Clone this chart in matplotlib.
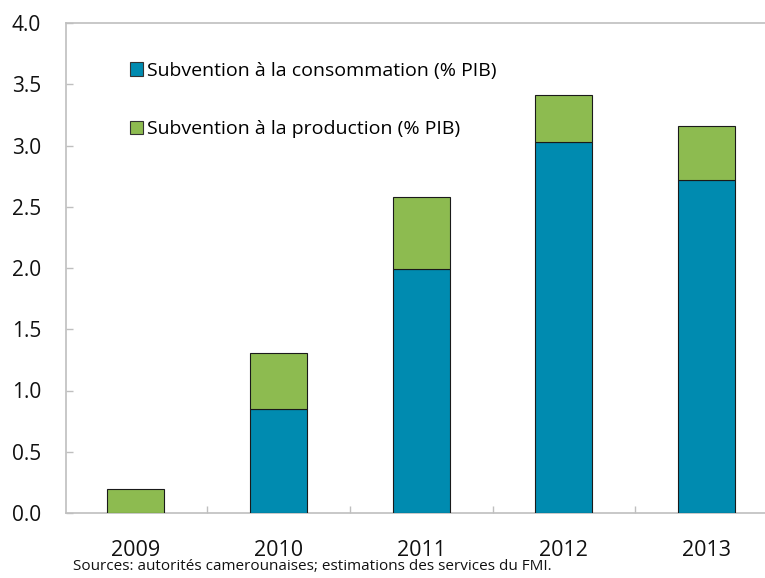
import matplotlib
matplotlib.use("Agg")
import matplotlib.pyplot as plt
from matplotlib.patches import Patch
from matplotlib.ticker import FixedLocator
import numpy as np

years = ["2009", "2010", "2011", "2012", "2013"]
consommation = [0.0, 0.85, 1.99, 3.03, 2.72]
production = [0.20, 0.46, 0.59, 0.38, 0.44]
yticks = [0.0, 0.5, 1.0, 1.5, 2.0, 2.5, 3.0, 3.5, 4.0]

blue = "#008BB0"
green = "#8DBB50"
spine_gray = "#BFBFBF"

plt.rcParams["font.family"] = ["Open Sans", "DejaVu Sans"]

fig = plt.figure(figsize=(7.65, 5.78), dpi=100)
ax = fig.add_axes([66 / 765, 1 - 513 / 578, 1 - 66 / 765, (513 - 23) / 578])

x = np.arange(len(years))
width = 0.40
ax.bar(x, consommation, width, color=blue, edgecolor="#1a1a1a", linewidth=0.8, zorder=3)
ax.bar(x, production, width, bottom=consommation, color=green, edgecolor="#1a1a1a",
       linewidth=0.8, zorder=3)

ax.set_xlim(-0.49, 4.41)
ax.set_ylim(0, 4.0)
ax.set_yticks(yticks)
ax.set_yticklabels([f"{v:.1f}" for v in yticks])
ax.set_xticks(x)
ax.set_xticklabels(years)
ax.xaxis.set_minor_locator(FixedLocator([0.5, 1.5, 2.5, 3.5]))

ax.tick_params(axis="x", which="major", length=0, pad=19.5, labelsize=15.5, colors="#111111")
ax.tick_params(axis="x", which="minor", direction="in", length=5, color=spine_gray, width=1)
ax.tick_params(axis="y", direction="in", length=5, color=spine_gray, width=1, pad=18,
               labelsize=15, labelcolor="#111111")

for side in ["left", "top", "bottom"]:
    ax.spines[side].set_color(spine_gray)
    ax.spines[side].set_linewidth(1.2)
ax.spines["right"].set_visible(False)

handles = [Patch(facecolor=blue, edgecolor="#333333", linewidth=0.8),
           Patch(facecolor=green, edgecolor="#333333", linewidth=0.8)]
labels = ["Subvention à la consommation (% PIB)", "Subvention à la production (% PIB)"]
ax.legend(handles, labels, loc="upper left", bbox_to_anchor=(0.08, 0.937),
          frameon=False, fontsize=14, handlelength=0.7, handleheight=0.7,
          handletextpad=0.2, labelspacing=2.1, borderaxespad=0)

fig.text(73 / 765, 1 - 567 / 578, "Sources: autorités camerounaises; estimations des services du FMI.",
         fontsize=11, ha="left", va="center", color="#111111")

fig.savefig("out.png", dpi=100)
